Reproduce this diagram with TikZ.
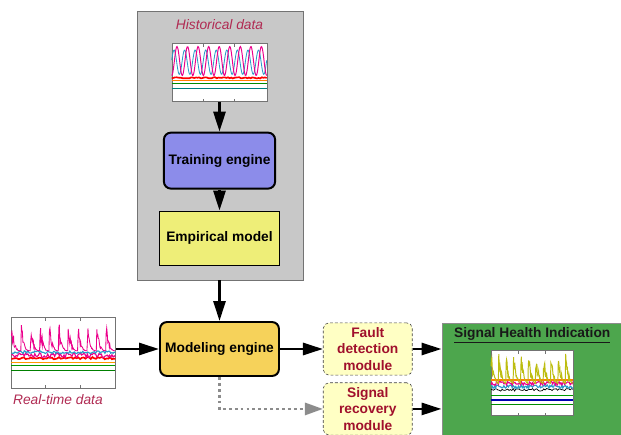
\documentclass[tikz,border=0pt]{standalone}
\usepackage{fontspec}
\setmainfont{Liberation Sans}
\usepackage{xcolor}
\usetikzlibrary{arrows.meta,positioning}

\definecolor{panelgray}{HTML}{C8C8C8}
\definecolor{trainblue}{HTML}{8C8CEA}
\definecolor{empiryellow}{HTML}{EEEE78}
\definecolor{modelgold}{HTML}{F6D25A}
\definecolor{modulecream}{HTML}{FFFFC4}
\definecolor{healthgreen}{HTML}{4DA64D}
\definecolor{textred}{HTML}{A0102C}
\definecolor{labelred}{HTML}{B02A52}
\definecolor{plotolive}{HTML}{BDBD10}

\newcommand{\diagfont}{\fontsize{9.8}{11.7}\selectfont}

\begin{document}
\begin{tikzpicture}[
    node distance=1.075cm,
    engine/.style={
        rectangle,
        rounded corners=5pt,
        draw=black,
        line width=1.4pt,
        minimum width=2.725cm,
        minimum height=1.4cm,
        align=center,
        font=\diagfont\bfseries
    },
    modelbox/.style={
        rectangle,
        draw=black,
        line width=1pt,
        minimum width=3.0cm,
        minimum height=1.35cm,
        align=center,
        font=\diagfont\bfseries
    },
    module/.style={
        rectangle,
        rounded corners=4pt,
        draw=black!75,
        dash pattern=on 2pt off 1.5pt,
        fill=modulecream,
        minimum width=2.225cm,
        minimum height=1.3cm,
        align=center,
        text=textred,
        font=\diagfont\bfseries
    },
    panel/.style={
        rectangle,
        inner sep=0pt
    },
    chart/.style={
        rectangle,
        draw=black!55,
        fill=white,
        inner sep=0pt
    },
    datalabel/.style={
        font=\diagfont\itshape,
        text=labelred
    },
    arrow/.style={
        -{Triangle[length=5mm,width=3mm]},
        line width=2pt
    },
    dotarrow/.style={
        -{Triangle[length=4.5mm,width=3mm]},
        line width=2pt,
        dash pattern=on 2pt off 2.2pt,
        draw=black!45
    }
]
\useasboundingbox (0,0) rectangle (15.525,10.85);
\pgfmathsetseed{7}

% ---------------- OFFLINE PART ----------------

\node[panel, draw=black!55, fill=panelgray,
      minimum width=4.15cm, minimum height=6.725cm] (histbox) at (5.5,7.2125) {};

\node[modelbox, fill=modelgold, rounded corners=5pt, line width=1.4pt,
      minimum width=2.975cm] (model) at (5.4875,2.125)
    {Modeling engine};

\node[modelbox, fill=empiryellow, above=1.375cm of model] (empir)
    {Empirical model};

\node[engine, fill=trainblue, above=0.525cm of empir] (train)
    {Training engine};

\node[chart, minimum width=2.375cm, minimum height=1.45cm,
      above=0.75cm of train] (hchart) {};

\node[datalabel, above=0.2cm of hchart] (histlabel)
    {Historical data};

% ---------------- ONLINE PART ----------------

\node[chart, minimum width=2.6cm, minimum height=1.775cm,
      left=of model, yshift=-0.09cm] (rchart) {};

\node[datalabel, anchor=north west, inner sep=1pt] (rtlabel)
    at ([yshift=-0.1cm]rchart.south west) {Real-time data};

\node[module, right=of model] (fault)
    {Fault\\detection\\module};

\node[module, below=0.175cm of fault] (recov)
    {Signal\\recovery\\module};

\node[panel, draw=black!45, line width=1pt, fill=healthgreen,
      minimum width=4.5cm, minimum height=2.95cm, anchor=north west]
    (health) at ([xshift=0.725cm]fault.north east) {};

\node[font=\diagfont\bfseries, text=black!90] (healthtitle)
    at ([yshift=-0.325cm]health.north) {\underline{Signal Health Indication}};

\node[chart, minimum width=2.05cm, minimum height=1.625cm]
    (gchart) at ([yshift=-1.5125cm]health.north) {};

% ---------------- CHART TRACES ----------------

\begin{scope}[shift={(hchart.south west)}, x=2.375cm, y=1.45cm]
    \draw[teal, line width=0.8pt] (0,0.22) -- (1,0.22);
    \draw[green!55!black, line width=0.6pt] (0,0.31) -- (1,0.31);
    \draw[orange, line width=0.8pt] (0,0.36) -- (1,0.36);
    \draw[red, line width=1.2pt] plot[domain=0:1, samples=60] (\x, {0.40+0.02*rnd});
    \draw[cyan!80!black, line width=0.6pt]
        plot[domain=0:1, samples=160] (\x, {0.47+0.42*pow(abs(sin(\x*1620+50)),2)});
    \draw[magenta, line width=0.7pt]
        plot[domain=0:1, samples=160] (\x, {0.45+0.5*pow(abs(sin(\x*1620)),2)});
    \foreach \t in {0.33,0.66} {
        \draw[black!55] (\t,0) -- (\t,0.05);
        \draw[black!55] (\t,1) -- (\t,0.95);
    }
\end{scope}

\begin{scope}[shift={(rchart.south west)}, x=2.6cm, y=1.775cm]
    \draw[green!50!black, line width=0.6pt] (0,0.25) -- (1,0.25);
    \draw[green!60!black, line width=0.6pt] (0,0.33) -- (1,0.33);
    \draw[orange!80!yellow, line width=0.6pt] (0,0.37) -- (1,0.37);
    \draw[red, line width=1.2pt] plot[domain=0:1, samples=60] (\x, {0.41+0.03*rnd});
    \draw[magenta, line width=0.8pt] plot[domain=0:1, samples=90] (\x, {0.43+0.07*rnd});
    \draw[cyan!80!black, line width=0.8pt] plot[domain=0:1, samples=90] (\x, {0.49+0.04*rnd});
    \draw[magenta, line width=0.6pt]
        plot[domain=0:0.999, samples=200] (\x, {0.53+(0.15+0.3*rnd)*pow(1-frac(\x*11),3)});
    \foreach \t in {0.33,0.66} {
        \draw[black!55] (\t,0) -- (\t,0.05);
        \draw[black!55] (\t,1) -- (\t,0.95);
    }
\end{scope}

\begin{scope}[shift={(gchart.south west)}, x=2.05cm, y=1.625cm]
    \draw[green!55!black, line width=0.6pt] (0,0.18) -- (1,0.18);
    \draw[blue!70!black, line width=1.6pt] (0,0.24) -- (1,0.24);
    \draw[green!60!black, line width=0.6pt] (0,0.31) -- (1,0.31);
    \draw[black, line width=0.5pt] plot[domain=0:1, samples=60] (\x, {0.38+0.04*rnd});
    \draw[cyan!80!black, line width=0.8pt] plot[domain=0:1, samples=90] (\x, {0.42+0.06*rnd});
    \draw[magenta, line width=0.8pt] plot[domain=0:1, samples=90] (\x, {0.47+0.06*rnd});
    \draw[orange, line width=0.8pt] (0,0.55) -- (1,0.55);
    \draw[plotolive, line width=0.7pt]
        plot[domain=0:0.999, samples=200] (\x, {0.5+(0.2+0.3*rnd)*pow(1-frac(\x*11),2)});
    \foreach \t in {0.33,0.66} {
        \draw[black!55] (\t,0) -- (\t,0.05);
        \draw[black!55] (\t,1) -- (\t,0.95);
    }
\end{scope}

% ---------------- ARROWS ----------------

\draw[arrow] (hchart) -- (train);
\draw[arrow] (train) -- (empir);
\draw[arrow] (histbox.south -| model.north) -- (model.north);

\draw[arrow] (rchart.east |- model) -- (model);
\draw[arrow] (model) -- (fault);

\draw[arrow] (fault) -- (fault -| health.west);
\draw[arrow] (recov) -- (recov -| health.west);

\draw[dotarrow] (model.south) |- (recov.west);

\end{tikzpicture}
\end{document}
